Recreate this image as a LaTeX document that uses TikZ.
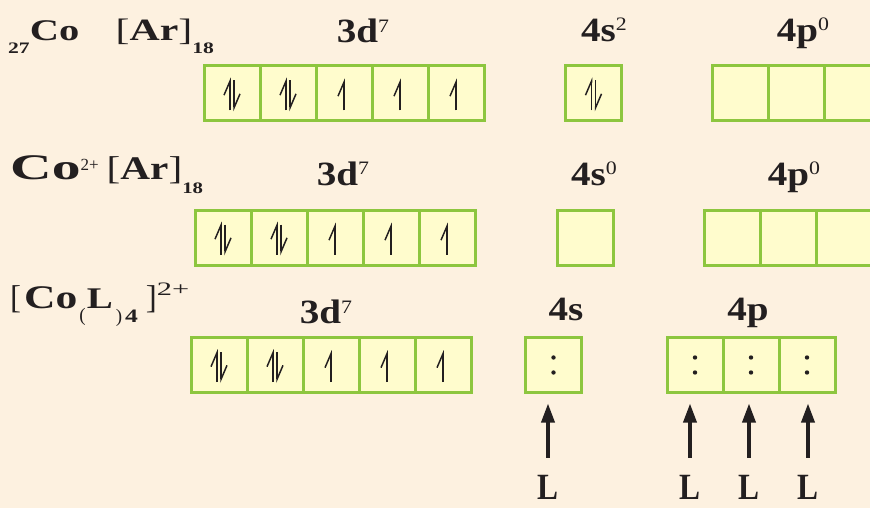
\documentclass[tikz,border=0pt]{standalone}
\usepackage{fontspec}
\setmainfont{Liberation Serif}
\newfontfamily\widefont[FakeStretch=1.15]{Liberation Serif}
\usepackage{xcolor}
\usepackage{tikz}
\usetikzlibrary{arrows.meta, positioning}

\definecolor{peachbg}{HTML}{FDF1E0}
\definecolor{orbfill}{HTML}{FFFCCD}
\definecolor{orbedge}{HTML}{8DC63F}
\definecolor{inkdark}{HTML}{231F20}

\begin{document}
\begin{tikzpicture}[
  x=1pt, y=-1pt,
  node distance=0pt,
  orb/.style={
    rectangle, draw=orbedge, fill=orbfill, line width=3pt,
    minimum width=56pt, minimum height=55pt, inner sep=0pt, outer sep=0pt
  },
  head/.style={anchor=base, inner sep=0pt, text=inkdark,
    font=\widefont\fontsize{34}{40}\selectfont\bfseries},
  atom/.style={anchor=base west, inner sep=0pt, text=inkdark,
    font=\fontsize{33}{36}\selectfont\bfseries},
  lig/.style={anchor=base, inner sep=0pt, text=inkdark,
    font=\fontsize{37}{38}\selectfont\bfseries},
  upspin/.style={draw=inkdark, line width=1.5pt,
    -{Straight Barb[left, length=14pt, width=12pt]}},
  ligarrow/.style={draw=inkdark, line width=3.5pt,
    -{Triangle[length=19pt, width=13pt]}}
]

  \clip (0,0) rectangle (870,508);
  \fill [peachbg] (0,0) rectangle (870,508);

  \node [atom, font=\fontsize{30}{34}\selectfont\bfseries] (atlabel) at (8,41) {\scalebox{1.35}[1]{\raisebox{-13pt}{\fontsize{16}{16}\selectfont 27}Co\hspace{27pt}{\fontsize{31}{34}\selectfont{\mdseries[}Ar{\mdseries]}}\raisebox{-13pt}{\fontsize{16}{16}\selectfont 18}}};
  \node [head] (atdhead) at (363,43) {3d\raisebox{10pt}{\fontsize{19}{19}\selectfont\mdseries 7}};
  \node [head] (atshead) at (604,42) {4s\raisebox{11pt}{\fontsize{19}{19}\selectfont\mdseries 2}};
  \node [head] (atphead) at (803,42) {4p\raisebox{11pt}{\fontsize{19}{19}\selectfont\mdseries 0}};

  \node [orb] (atD1) at (232,93.5) {};
  \node [orb, right=of atD1] (atD2) {};
  \node [orb, right=of atD2] (atD3) {};
  \node [orb, right=of atD3] (atD4) {};
  \node [orb, right=of atD4] (atD5) {};
  \node [orb] (atS) at (593.5,93.5) {};
  \node [orb] (atP1) at (740,93.5) {};
  \node [orb, right=of atP1] (atP2) {};
  \node [orb, right=of atP2] (atP3) {};

  \node [atom] (ionlabel) at (10,179) {\scalebox{1.6}[1]{\fontsize{36}{38}\selectfont Co}\raisebox{9pt}{\fontsize{17}{17}\selectfont\mdseries 2+}\hspace{8pt}\scalebox{1.25}[1]{{\mdseries[}Ar{\mdseries]}}\raisebox{-14pt}{\scalebox{1.3}[1]{\fontsize{16}{16}\selectfont 18}}};
  \node [head] (iondhead) at (343,185) {3d\raisebox{10pt}{\fontsize{19}{19}\selectfont\mdseries 7}};
  \node [head] (ionshead) at (594,185) {4s\raisebox{11pt}{\fontsize{19}{19}\selectfont\mdseries 0}};
  \node [head] (ionphead) at (794,185) {4p\raisebox{11pt}{\fontsize{19}{19}\selectfont\mdseries 0}};

  \node [orb] (ionD1) at (223,237.5) {};
  \node [orb, right=of ionD1] (ionD2) {};
  \node [orb, right=of ionD2] (ionD3) {};
  \node [orb, right=of ionD3] (ionD4) {};
  \node [orb, right=of ionD4] (ionD5) {};
  \node [orb] (ionS) at (585.5,237.5) {};
  \node [orb] (ionP1) at (732,237.5) {};
  \node [orb, right=of ionP1] (ionP2) {};
  \node [orb, right=of ionP2] (ionP3) {};

  \node [atom] (cplxlabel) at (10,308) {{\mdseries[}\hspace{3pt}\scalebox{1.32}[1]{Co}\hspace{2pt}\raisebox{-13pt}{\fontsize{19}{19}\selectfont\mdseries(}\hspace{1pt}\scalebox{1.3}[1]{\fontsize{30}{30}\selectfont L}\hspace{3pt}\raisebox{-14pt}{\fontsize{19}{19}\selectfont{\mdseries)}\hspace{3pt}\scalebox{1.35}[1]{4}}\hspace{8pt}{\mdseries]}\raisebox{13pt}{\scalebox{1.6}[1]{\fontsize{19}{19}\selectfont\mdseries 2+}}};
  \node [head] (cplxdhead) at (326,323) {3d\raisebox{10pt}{\fontsize{19}{19}\selectfont\mdseries 7}};
  \node [head] (cplxshead) at (566,320) {4s};
  \node [head] (cplxphead) at (748,320) {4p};

  \node [orb] (cplxD1) at (219,365) {};
  \node [orb, right=of cplxD1] (cplxD2) {};
  \node [orb, right=of cplxD2] (cplxD3) {};
  \node [orb, right=of cplxD3] (cplxD4) {};
  \node [orb, right=of cplxD4] (cplxD5) {};
  \node [orb] (cplxS) at (553.5,365) {};
  \node [orb] (cplxP1) at (695,365) {};
  \node [orb, right=of cplxP1] (cplxP2) {};
  \node [orb, right=of cplxP2] (cplxP3) {};

  \path [upspin] ([xshift=-2pt,yshift=-17pt]atD1.center) -- ([xshift=-2pt,yshift=16pt]atD1.center);
  \path [upspin] ([xshift=2pt,yshift=13pt]atD1.center) -- ([xshift=2pt,yshift=-18pt]atD1.center);
  \path [upspin] ([xshift=-2pt,yshift=-17pt]atD2.center) -- ([xshift=-2pt,yshift=16pt]atD2.center);
  \path [upspin] ([xshift=2pt,yshift=13pt]atD2.center) -- ([xshift=2pt,yshift=-18pt]atD2.center);
  \path [upspin] ([yshift=-17pt]atD3.center) -- ([yshift=15pt]atD3.center);
  \path [upspin] ([yshift=-17pt]atD4.center) -- ([yshift=15pt]atD4.center);
  \path [upspin] ([yshift=-17pt]atD5.center) -- ([yshift=15pt]atD5.center);
  \path [upspin] ([xshift=-2pt,yshift=-17pt]atS.center) -- ([xshift=-2pt,yshift=16pt]atS.center);
  \path [upspin] ([xshift=2pt,yshift=13pt]atS.center) -- ([xshift=2pt,yshift=-18pt]atS.center);

  \path [upspin] ([xshift=-2pt,yshift=-17pt]ionD1.center) -- ([xshift=-2pt,yshift=16pt]ionD1.center);
  \path [upspin] ([xshift=2pt,yshift=13pt]ionD1.center) -- ([xshift=2pt,yshift=-18pt]ionD1.center);
  \path [upspin] ([xshift=-2pt,yshift=-17pt]ionD2.center) -- ([xshift=-2pt,yshift=16pt]ionD2.center);
  \path [upspin] ([xshift=2pt,yshift=13pt]ionD2.center) -- ([xshift=2pt,yshift=-18pt]ionD2.center);
  \path [upspin] ([yshift=-17pt]ionD3.center) -- ([yshift=15pt]ionD3.center);
  \path [upspin] ([yshift=-17pt]ionD4.center) -- ([yshift=15pt]ionD4.center);
  \path [upspin] ([yshift=-17pt]ionD5.center) -- ([yshift=15pt]ionD5.center);

  \path [upspin] ([xshift=-2pt,yshift=-17pt]cplxD1.center) -- ([xshift=-2pt,yshift=16pt]cplxD1.center);
  \path [upspin] ([xshift=2pt,yshift=13pt]cplxD1.center) -- ([xshift=2pt,yshift=-18pt]cplxD1.center);
  \path [upspin] ([xshift=-2pt,yshift=-17pt]cplxD2.center) -- ([xshift=-2pt,yshift=16pt]cplxD2.center);
  \path [upspin] ([xshift=2pt,yshift=13pt]cplxD2.center) -- ([xshift=2pt,yshift=-18pt]cplxD2.center);
  \path [upspin] ([yshift=-17pt]cplxD3.center) -- ([yshift=15pt]cplxD3.center);
  \path [upspin] ([yshift=-17pt]cplxD4.center) -- ([yshift=15pt]cplxD4.center);
  \path [upspin] ([yshift=-17pt]cplxD5.center) -- ([yshift=15pt]cplxD5.center);

  \fill [inkdark] ([yshift=7.5pt]cplxS.center) circle (2.2pt) ([yshift=-7.5pt]cplxS.center) circle (2.2pt);
  \fill [inkdark] ([yshift=7.5pt]cplxP1.center) circle (2.2pt) ([yshift=-7.5pt]cplxP1.center) circle (2.2pt);
  \fill [inkdark] ([yshift=7.5pt]cplxP2.center) circle (2.2pt) ([yshift=-7.5pt]cplxP2.center) circle (2.2pt);
  \fill [inkdark] ([yshift=7.5pt]cplxP3.center) circle (2.2pt) ([yshift=-7.5pt]cplxP3.center) circle (2.2pt);

  \node [lig] (ligS) at (548,499) {\scalebox{0.85}[1]{L}};
  \node [lig] (ligP1) at (690,499) {\scalebox{0.85}[1]{L}};
  \node [lig] (ligP2) at (749,499) {\scalebox{0.85}[1]{L}};
  \node [lig] (ligP3) at (808,499) {\scalebox{0.85}[1]{L}};

  \path [ligarrow] ([yshift=17pt]ligS.north) -- ([yshift=-11pt]ligS.north |- cplxS.south);
  \path [ligarrow] ([yshift=17pt]ligP1.north) -- ([yshift=-11pt]ligP1.north |- cplxP1.south);
  \path [ligarrow] ([yshift=17pt]ligP2.north) -- ([yshift=-11pt]ligP2.north |- cplxP2.south);
  \path [ligarrow] ([yshift=17pt]ligP3.north) -- ([yshift=-11pt]ligP3.north |- cplxP3.south);

\end{tikzpicture}
\end{document}
